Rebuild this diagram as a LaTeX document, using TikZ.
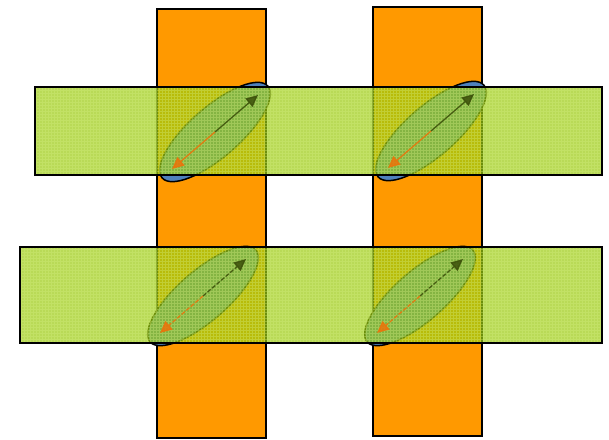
\documentclass[tikz,border=0pt]{standalone}
\usetikzlibrary{arrows.meta,calc}
\definecolor{colorange}{HTML}{FF9900}
\definecolor{bandgreen}{RGB}{155,203,15}
\definecolor{gridgreen}{RGB}{215,240,130}
\definecolor{ellblue}{HTML}{4F81BD}
\definecolor{arroworange}{RGB}{235,115,10}
\definecolor{arrowdark}{RGB}{60,80,10}
\tikzset{
  column/.style={fill=colorange, draw=black, line width=1.4pt},
  bandfill/.style={fill=bandgreen, opacity=0.7},
  bandedge/.style={draw=black, line width=1.4pt},
  bandgrid/.style={draw=gridgreen, line width=0.35pt, opacity=0.35},
  spot/.style={fill=ellblue, draw=black, line width=1.5pt},
  darkarrow/.style={draw=arrowdark, fill=arrowdark, line width=1.3pt, opacity=0.85, -{Triangle[length=12pt,width=11pt]}},
  orangearrow/.style={draw=arroworange, fill=arroworange, line width=1.3pt, opacity=0.85, -{Triangle[length=12pt,width=11pt]}},
}
\begin{document}
\begin{tikzpicture}[x=1pt,y=-1pt]
\useasboundingbox (0,0) rectangle (609,439);
% columns
\draw[column] (157,9) rectangle (266,438);
\draw[column] (373,7) rectangle (482,436);
% ellipse centres
\coordinate (e1) at (215,132);
\coordinate (e2) at (431,131);
\coordinate (e3) at (203,296);
\coordinate (e4) at (420,296);
\foreach \c in {e1,e2,e3,e4}{
  \draw[spot] (\c) ellipse [x radius=70, y radius=25, rotate=41];
  \coordinate (\c-up) at ($(\c)+(43,-37)$);
  \coordinate (\c-down) at ($(\c)+(-43,37)$);
}
% bands
\fill[bandfill] (35,87) rectangle (602,175);
\fill[bandfill] (20,247) rectangle (602,343);
\begin{scope}
  \clip (35,87) rectangle (602,175);
  \draw[bandgrid, step=3pt] (35,87) grid (602,175);
\end{scope}
\begin{scope}
  \clip (20,247) rectangle (602,343);
  \draw[bandgrid, step=3pt] (20,247) grid (602,343);
\end{scope}
\draw[bandedge] (35,87) rectangle (602,175);
\draw[bandedge] (20,247) rectangle (602,343);
% arrows
\draw[darkarrow] (e1) -- (e1-up);
\draw[orangearrow] (e1) -- (e1-down);
\draw[darkarrow] (e2) -- (e2-up);
\draw[orangearrow] (e2) -- (e2-down);
\draw[darkarrow, dash pattern=on 4pt off 2pt] (e3) -- (e3-up);
\draw[orangearrow, dash pattern=on 4pt off 2pt] (e3) -- (e3-down);
\draw[darkarrow, dash pattern=on 4pt off 2pt] (e4) -- (e4-up);
\draw[orangearrow, dash pattern=on 4pt off 2pt] (e4) -- (e4-down);
\end{tikzpicture}
\end{document}
